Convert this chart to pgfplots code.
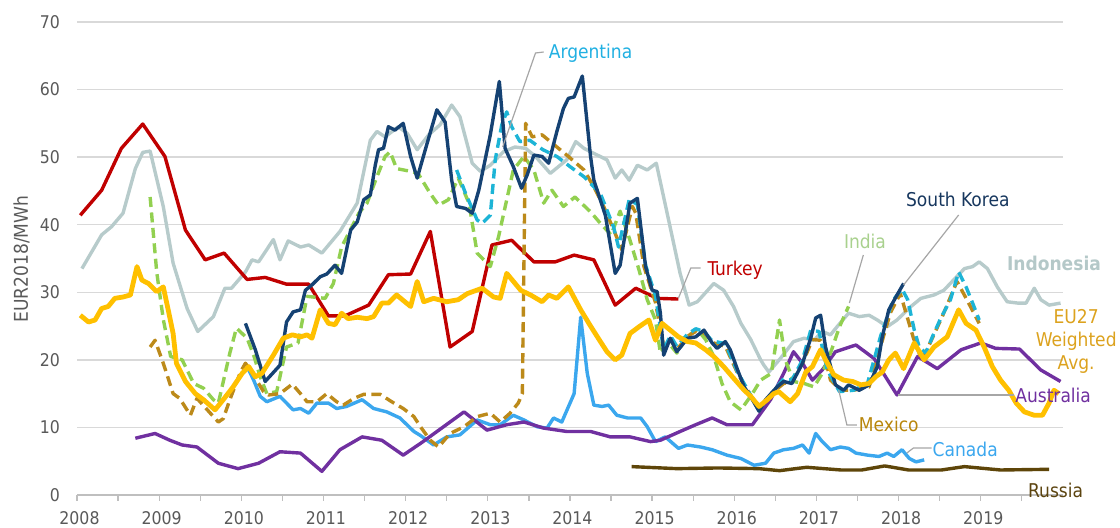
\documentclass[border=0pt]{standalone}
\usepackage{fontspec}
\IfFontExistsTF{DejaVu Sans Condensed}{\setmainfont{DejaVu Sans Condensed}}{\setmainfont{DejaVu Sans}}
\usepackage{pgfplots}
\pgfplotsset{compat=1.18}
\definecolor{cTur}{HTML}{C00000}
\definecolor{cIdn}{HTML}{B7CBCB}
\definecolor{cKor}{HTML}{154273}
\definecolor{cArg}{HTML}{1DB4D6}
\definecolor{cInd}{HTML}{92D050}
\definecolor{cMex}{HTML}{BC8A1A}
\definecolor{cEU}{HTML}{FFC000}
\definecolor{cAus}{HTML}{7030A0}
\definecolor{cCan}{HTML}{3BA7EE}
\definecolor{cRus}{HTML}{5E4509}
\definecolor{tArg}{HTML}{21B0E2}
\definecolor{tKor}{HTML}{17375E}
\definecolor{tInd}{HTML}{A9D18E}
\definecolor{tIdn}{HTML}{B4C8C8}
\definecolor{tEU}{HTML}{DCA21E}
\definecolor{tMex}{HTML}{B8860B}
\definecolor{tRus}{HTML}{5C4410}
\definecolor{cGrid}{HTML}{D9D9D9}
\definecolor{cAxis}{HTML}{BFBFBF}
\definecolor{cTick}{HTML}{595959}
\definecolor{cLead}{HTML}{A6A6A6}
\begin{document}
\begin{tikzpicture}[x=1bp,y=1bp]
\path[use as bounding box] (0,0) rectangle (1120,528);
\begin{axis}[
  at={(77bp,33bp)}, anchor=south west,
  scale only axis, width=986bp, height=473bp,
  xmin=2008, xmax=2020, ymin=0, ymax=70,
  axis x line*=bottom, axis y line*=left,
  y axis line style={draw=none},
  x axis line style={draw=cAxis, line width=1.3bp},
  xtick={2008,2009,...,2019},
  minor xtick={2008.5,2009.5,...,2019.5},
  ytick={0,10,...,70},
  ymajorgrids, major grid style={draw=cGrid, line width=1.3bp},
  tick align=outside,
  major tick length=6bp, minor tick length=6bp,
  xtick style={draw=cAxis, line width=1.3bp},
  every minor tick/.append style={draw=cAxis, line width=1.3bp},
  ytick style={draw=none},
  scaled x ticks=false,
  /pgf/number format/assume math mode=true,
  xticklabel={\pgfmathprintnumber[1000 sep={},fixed,precision=0]{\tick}},
  x tick label style={font=\fontsize{17.5bp}{21bp}\selectfont, text=cTick, anchor=north, inner sep=0pt, yshift=-10.5bp, xshift=2.5bp},
  y tick label style={font=\fontsize{17.5bp}{21bp}\selectfont, text=cTick, anchor=east, inner sep=0pt, xshift=-11bp},
  ylabel={EUR2018/MWh},
  every axis y label/.style={at={(axis description cs:-0.0563,0.499)}, rotate=90, anchor=center, font=\fontsize{19bp}{23bp}\selectfont, text=cTick},
  clip=false,
  every axis plot/.append style={line width=3.4bp, line join=round, no markers},
  dsh/.style={dash pattern=on 10bp off 5.5bp},
]
% Indonesia
\addplot[cIdn] coordinates {(2008.06,33.5)(2008.30,38.5)(2008.42,39.7)(2008.56,41.7)(2008.71,48.3)(2008.80,50.7)(2008.89,50.9)(2009.05,42.7)(2009.17,34.3)(2009.34,27.6)(2009.47,24.2)(2009.66,26.4)(2009.80,30.6)(2009.88,30.6)(2010.05,33.0)(2010.13,34.8)(2010.21,34.5)(2010.39,37.8)(2010.47,34.8)(2010.57,37.6)(2010.72,36.7)(2010.82,37.0)(2010.98,35.8)(2011.20,39.0)(2011.41,43.2)(2011.57,52.5)(2011.65,53.8)(2011.75,53.0)(2011.91,54.5)(2012.02,53.5)(2012.14,51.1)(2012.28,53.3)(2012.42,54.8)(2012.56,57.7)(2012.66,56.0)(2012.81,49.1)(2012.91,47.9)(2013.03,48.8)(2013.19,50.8)(2013.33,51.5)(2013.46,51.3)(2013.58,50.1)(2013.76,47.6)(2013.86,48.6)(2013.96,49.6)(2014.07,52.3)(2014.17,51.3)(2014.25,50.8)(2014.45,49.6)(2014.55,46.9)(2014.63,48.1)(2014.72,46.6)(2014.82,48.8)(2014.94,48.1)(2015.05,49.1)(2015.20,40.7)(2015.34,32.8)(2015.45,28.1)(2015.55,28.6)(2015.75,31.3)(2015.87,30.3)(2015.99,27.9)(2016.08,25.4)(2016.20,23.0)(2016.32,20.0)(2016.36,19.2)(2016.42,18.2)(2016.56,20.2)(2016.72,22.7)(2016.85,23.2)(2016.97,22.9)(2017.07,24.2)(2017.17,23.7)(2017.25,24.9)(2017.39,26.9)(2017.52,26.4)(2017.64,26.6)(2017.74,25.9)(2017.86,24.9)(2017.98,25.9)(2018.15,27.9)(2018.27,29.1)(2018.43,29.6)(2018.55,30.3)(2018.69,32.1)(2018.80,33.5)(2018.90,33.8)(2018.98,34.5)(2019.08,33.5)(2019.20,30.8)(2019.32,28.6)(2019.45,28.4)(2019.55,28.4)(2019.65,30.6)(2019.73,28.9)(2019.83,28.1)(2019.97,28.4)};
% Russia
\addplot[cRus] coordinates {(2014.75,4.2)(2015.30,3.9)(2015.80,4.0)(2016.30,3.9)(2016.55,3.6)(2016.88,4.1)(2017.30,3.7)(2017.55,3.7)(2017.83,4.3)(2018.12,3.7)(2018.52,3.7)(2018.80,4.2)(2019.24,3.7)(2019.83,3.8)};
% Canada
\addplot[cCan] coordinates {(2010.09,18.5)(2010.15,17.0)(2010.23,14.6)(2010.31,13.8)(2010.47,14.6)(2010.63,12.6)(2010.72,12.8)(2010.82,12.1)(2010.92,13.6)(2011.06,13.6)(2011.16,12.8)(2011.28,13.1)(2011.47,14.1)(2011.61,12.8)(2011.77,12.3)(2011.93,11.4)(2012.10,9.4)(2012.18,8.8)(2012.34,7.4)(2012.50,8.6)(2012.66,8.9)(2012.87,11.1)(2013.03,10.4)(2013.15,10.4)(2013.31,11.8)(2013.44,11.1)(2013.60,10.1)(2013.72,9.9)(2013.80,11.4)(2013.90,10.8)(2014.05,15.0)(2014.13,26.3)(2014.21,18.0)(2014.29,13.3)(2014.39,13.1)(2014.47,13.3)(2014.57,11.8)(2014.70,11.4)(2014.86,11.4)(2014.94,10.1)(2015.04,7.9)(2015.16,8.6)(2015.32,6.9)(2015.43,7.4)(2015.59,7.1)(2015.73,6.7)(2015.91,5.9)(2016.08,5.4)(2016.24,4.4)(2016.38,4.7)(2016.48,6.2)(2016.60,6.7)(2016.72,6.9)(2016.83,7.4)(2016.91,6.2)(2016.99,9.1)(2017.07,7.9)(2017.17,6.7)(2017.29,7.1)(2017.39,6.9)(2017.48,6.2)(2017.62,5.9)(2017.76,5.7)(2017.86,6.2)(2017.94,5.7)(2018.04,6.7)(2018.13,5.4)(2018.21,4.9)(2018.31,5.2)};
% Australia
\addplot[cAus] coordinates {(2008.71,8.4)(2008.95,9.1)(2009.13,8.1)(2009.28,7.4)(2009.46,7.1)(2009.72,4.7)(2009.96,3.9)(2010.21,4.7)(2010.47,6.4)(2010.72,6.2)(2010.98,3.5)(2011.20,6.7)(2011.47,8.6)(2011.71,8.1)(2011.97,5.9)(2012.20,7.8)(2012.71,12.3)(2012.99,9.6)(2013.23,10.4)(2013.44,10.8)(2013.68,9.9)(2013.96,9.4)(2014.25,9.4)(2014.49,8.6)(2014.73,8.6)(2014.98,7.9)(2015.10,8.1)(2015.34,9.4)(2015.53,10.4)(2015.73,11.4)(2015.91,10.4)(2016.22,10.4)(2016.44,14.1)(2016.60,18.0)(2016.72,21.2)(2016.83,19.5)(2016.95,17.0)(2017.07,18.5)(2017.23,21.2)(2017.48,22.2)(2017.70,20.2)(2017.84,17.5)(2017.98,14.8)(2018.23,20.5)(2018.47,18.7)(2018.76,21.5)(2019.00,22.5)(2019.18,21.7)(2019.47,21.6)(2019.73,18.5)(2019.97,16.8)};
% Turkey
\addplot[cTur] coordinates {(2008.04,41.4)(2008.30,45.1)(2008.54,51.3)(2008.80,54.9)(2009.07,50.1)(2009.32,39.2)(2009.56,34.8)(2009.79,35.8)(2010.07,31.9)(2010.29,32.2)(2010.55,31.2)(2010.82,31.2)(2011.06,26.5)(2011.26,26.5)(2011.55,28.1)(2011.79,32.6)(2012.06,32.7)(2012.30,39.0)(2012.54,21.9)(2012.81,24.2)(2013.05,37.0)(2013.29,37.7)(2013.56,34.5)(2013.82,34.5)(2014.05,35.5)(2014.29,34.8)(2014.55,28.1)(2014.80,30.6)(2015.06,29.1)(2015.32,29.0)};
% India
\addplot[cInd,dsh] coordinates {(2008.89,44.1)(2008.97,33.0)(2009.05,26.0)(2009.14,20.5)(2009.28,20.0)(2009.42,16.5)(2009.54,15.8)(2009.66,14.1)(2009.72,13.6)(2009.86,21.0)(2009.94,24.7)(2010.07,23.2)(2010.15,20.7)(2010.23,17.5)(2010.31,15.0)(2010.43,15.3)(2010.55,21.9)(2010.69,22.5)(2010.80,29.4)(2011.02,29.1)(2011.12,31.3)(2011.22,36.7)(2011.43,41.7)(2011.53,43.2)(2011.65,47.1)(2011.75,50.1)(2011.81,50.8)(2011.89,48.3)(2012.06,47.9)(2012.15,47.6)(2012.30,44.6)(2012.40,42.9)(2012.52,43.7)(2012.64,46.9)(2012.77,43.2)(2012.87,35.8)(2013.03,33.8)(2013.13,38.2)(2013.23,43.7)(2013.31,48.1)(2013.44,50.1)(2013.56,48.1)(2013.68,43.2)(2013.78,45.1)(2013.92,42.7)(2014.06,44.1)(2014.25,41.9)(2014.37,40.2)(2014.50,38.5)(2014.61,42.0)(2014.73,37.7)(2014.84,33.3)(2014.94,28.9)(2015.04,25.9)(2015.10,21.0)(2015.20,22.5)(2015.30,21.0)(2015.43,23.5)(2015.55,24.5)(2015.65,23.0)(2015.75,20.5)(2015.85,16.5)(2015.95,13.8)(2016.08,12.6)(2016.22,15.0)(2016.32,17.0)(2016.45,18.0)(2016.55,25.9)(2016.62,20.0)(2016.72,16.8)(2016.85,16.5)(2016.97,16.0)(2017.07,18.0)(2017.17,21.0)(2017.28,24.9)(2017.39,27.9)};
% Mexico
\addplot[cMex,dsh] coordinates {(2008.89,21.9)(2008.95,22.9)(2009.05,19.5)(2009.17,15.0)(2009.25,14.3)(2009.38,11.8)(2009.46,14.3)(2009.72,10.8)(2009.78,11.3)(2009.86,14.1)(2009.99,18.2)(2010.05,19.5)(2010.11,18.5)(2010.27,15.3)(2010.33,14.8)(2010.47,15.0)(2010.62,16.4)(2010.72,15.0)(2010.80,13.8)(2010.92,13.8)(2011.04,15.0)(2011.16,13.8)(2011.24,13.3)(2011.37,14.3)(2011.49,14.9)(2011.69,14.9)(2011.83,13.8)(2011.97,12.8)(2012.10,11.6)(2012.18,10.1)(2012.30,8.1)(2012.40,7.1)(2012.54,9.1)(2012.71,10.1)(2012.87,11.6)(2013.03,12.1)(2013.15,10.8)(2013.27,12.1)(2013.37,13.6)(2013.42,15.0)(2013.46,55.0)(2013.54,53.0)(2013.66,53.3)(2013.84,51.5)(2013.98,50.1)(2014.17,48.1)(2014.29,45.6)(2014.41,42.7)(2014.55,38.7)(2014.63,36.3)(2014.76,42.7)(2014.80,41.7)(2014.90,33.8)(2015.04,28.5)(2015.14,22.0)(2015.22,23.0)(2015.30,21.5)(2015.43,23.5)(2015.53,24.2)(2015.63,24.0)(2015.75,22.5)(2015.89,22.0)(2016.04,18.0)(2016.22,14.3)(2016.32,13.0)(2016.45,15.0)(2016.60,16.5)(2016.70,16.8)(2016.83,19.5)(2016.95,23.0)(2017.05,22.9)(2017.17,17.0)(2017.30,15.5)(2017.45,15.5)(2017.64,16.0)(2017.78,22.0)(2017.90,27.0)(2018.02,29.8)(2018.18,23.2)(2018.28,20.0)(2018.36,21.9)(2018.53,26.4)(2018.71,31.6)(2018.83,28.9)(2018.98,25.4)};
% Argentina
\addplot[cArg,dsh] coordinates {(2012.62,48.1)(2012.73,44.6)(2012.87,40.7)(2012.93,40.2)(2013.03,41.4)(2013.09,49.6)(2013.17,54.8)(2013.23,56.7)(2013.29,54.5)(2013.39,52.3)(2013.51,52.5)(2013.67,51.1)(2013.84,50.1)(2014.00,48.6)(2014.17,47.1)(2014.37,44.6)(2014.53,39.7)(2014.59,36.7)(2014.72,43.7)(2014.82,43.0)(2014.92,34.0)(2015.04,29.5)(2015.14,21.5)(2015.22,23.6)(2015.30,22.0)(2015.43,23.8)(2015.53,24.6)(2015.63,24.2)(2015.73,22.8)(2015.89,22.4)(2016.04,18.2)(2016.22,14.3)(2016.32,13.0)(2016.45,15.0)(2016.60,17.2)(2016.70,17.0)(2016.83,20.0)(2016.93,24.4)(2017.03,24.2)(2017.13,18.5)(2017.28,15.3)(2017.45,15.5)(2017.62,16.5)(2017.78,23.5)(2017.93,28.8)(2018.04,30.5)(2018.11,28.9)(2018.19,24.4)(2018.25,21.9)(2018.33,21.0)(2018.41,23.4)(2018.51,26.1)(2018.63,28.9)(2018.73,33.0)(2018.82,30.8)(2018.90,28.4)(2018.98,25.9)};
% South Korea
\addplot[cKor] coordinates {(2010.05,25.4)(2010.17,21.5)(2010.29,16.8)(2010.47,19.2)(2010.55,25.6)(2010.63,27.1)(2010.72,27.4)(2010.78,30.3)(2010.86,31.1)(2010.96,32.3)(2011.04,32.7)(2011.14,34.0)(2011.22,32.8)(2011.33,39.2)(2011.41,40.4)(2011.49,43.7)(2011.57,44.4)(2011.63,48.8)(2011.67,51.1)(2011.73,51.3)(2011.79,54.5)(2011.87,54.0)(2011.97,55.0)(2012.06,50.1)(2012.14,46.9)(2012.26,52.0)(2012.38,57.0)(2012.48,55.2)(2012.56,46.6)(2012.62,42.7)(2012.73,42.4)(2012.81,41.7)(2012.89,45.1)(2013.03,53.3)(2013.14,61.2)(2013.21,51.3)(2013.31,48.6)(2013.41,45.4)(2013.48,47.4)(2013.56,50.3)(2013.66,50.1)(2013.74,49.1)(2013.84,53.8)(2013.92,57.2)(2013.98,58.7)(2014.05,58.9)(2014.15,62.0)(2014.25,50.1)(2014.29,46.6)(2014.43,41.4)(2014.55,32.8)(2014.61,34.0)(2014.73,43.2)(2014.82,43.9)(2014.92,33.8)(2015.00,30.3)(2015.06,30.1)(2015.10,26.9)(2015.14,20.7)(2015.22,23.2)(2015.30,21.2)(2015.43,23.2)(2015.53,23.4)(2015.63,24.4)(2015.73,22.5)(2015.79,21.7)(2015.89,22.7)(2015.95,21.5)(2016.04,18.5)(2016.12,16.0)(2016.22,14.1)(2016.30,12.4)(2016.38,14.1)(2016.52,16.0)(2016.60,16.8)(2016.70,16.5)(2016.83,19.5)(2016.93,23.2)(2016.99,26.2)(2017.05,26.6)(2017.11,21.9)(2017.23,16.3)(2017.33,15.5)(2017.39,16.3)(2017.52,15.5)(2017.64,16.3)(2017.74,19.0)(2017.80,23.4)(2017.88,27.4)(2017.98,29.6)(2018.06,31.3)};
% EU27 weighted average
\addplot[cEU, line width=4.8bp] coordinates {(2008.04,26.6)(2008.14,25.6)(2008.22,25.9)(2008.30,27.6)(2008.38,27.9)(2008.46,29.1)(2008.56,29.3)(2008.65,29.6)(2008.73,33.8)(2008.79,31.8)(2008.87,31.3)(2008.97,30.1)(2009.05,30.8)(2009.11,27.4)(2009.17,23.9)(2009.21,19.5)(2009.32,16.8)(2009.44,15.0)(2009.54,14.1)(2009.68,12.6)(2009.78,14.1)(2009.90,16.0)(2010.01,18.0)(2010.09,19.0)(2010.17,17.5)(2010.25,18.0)(2010.39,20.7)(2010.51,23.2)(2010.62,23.7)(2010.72,23.4)(2010.80,23.7)(2010.86,23.2)(2010.96,27.4)(2011.06,25.4)(2011.14,25.2)(2011.22,26.9)(2011.30,26.1)(2011.41,26.3)(2011.53,26.1)(2011.61,26.4)(2011.71,28.4)(2011.79,28.4)(2011.89,29.6)(2012.06,27.9)(2012.14,31.6)(2012.22,28.6)(2012.34,29.1)(2012.50,28.6)(2012.64,28.9)(2012.75,29.8)(2012.93,30.6)(2013.07,29.3)(2013.15,29.1)(2013.23,32.8)(2013.40,30.3)(2013.52,29.6)(2013.66,28.6)(2013.74,29.6)(2013.84,29.1)(2013.98,30.8)(2014.13,27.4)(2014.25,25.0)(2014.37,22.7)(2014.45,21.2)(2014.55,20.0)(2014.63,20.7)(2014.73,23.9)(2014.84,24.9)(2014.96,25.9)(2015.04,22.9)(2015.12,25.4)(2015.22,24.4)(2015.32,23.4)(2015.43,22.7)(2015.53,22.5)(2015.65,21.5)(2015.75,20.5)(2015.87,19.0)(2015.99,17.3)(2016.12,15.5)(2016.20,14.6)(2016.30,13.1)(2016.40,14.1)(2016.48,15.0)(2016.54,15.3)(2016.68,13.8)(2016.77,15.0)(2016.87,18.2)(2016.95,19.0)(2017.05,21.5)(2017.11,20.0)(2017.21,17.8)(2017.33,17.0)(2017.44,16.8)(2017.54,16.3)(2017.64,16.5)(2017.72,17.5)(2017.80,18.2)(2017.88,20.0)(2017.96,21.0)(2018.06,18.7)(2018.19,22.5)(2018.31,20.0)(2018.43,21.9)(2018.59,23.4)(2018.73,27.4)(2018.82,25.4)(2018.94,24.4)(2019.04,21.9)(2019.14,19.0)(2019.24,17.0)(2019.34,15.5)(2019.43,13.6)(2019.53,12.3)(2019.65,11.8)(2019.75,11.8)(2019.83,13.6)(2019.89,15.5)(2019.95,15.0)};
% leader lines
\draw[cLead, line width=1.2bp] (axis cs:2013.68,65.56) -- (axis cs:2013.58,65.41) -- (axis cs:2013.18,51.5);
\draw[cLead, line width=1.2bp] (axis cs:2015.59,33.59) -- (axis cs:2015.47,33.59) -- (axis cs:2015.32,29.15);
\draw[cLead, line width=1.2bp] (axis cs:2018.73,41.44) -- (axis cs:2018.06,31.08);
\draw[cLead, line width=1.2bp] (axis cs:2017.57,35.52) -- (axis cs:2017.40,28.41);
\draw[cLead, line width=1.2bp] (axis cs:2019.40,14.80) -- (axis cs:2017.99,14.80);
\draw[cLead, line width=1.2bp] (axis cs:2017.49,10.36) -- (axis cs:2017.37,10.36) -- (axis cs:2017.27,15.54);
\draw[cLead, line width=1.2bp] (axis cs:2018.40,6.96) -- (axis cs:2018.18,6.96) -- (axis cs:2018.10,6.22);
% labels
\begin{scope}[every node/.style={font=\fontsize{19bp}{23bp}\selectfont, inner sep=0pt}]
\node[text=tArg] at (axis cs:2014.25,65.4) {Argentina};
\node[text=cTur] at (axis cs:2016.01,33.3) {Turkey};
\node[text=tKor] at (axis cs:2018.72,43.7) {South Korea};
\node[text=tInd] at (axis cs:2017.59,37.6) {India};
\node[text=tIdn, font=\fontsize{19bp}{23bp}\selectfont\bfseries] at (axis cs:2019.89,34.3) {Indonesia};
\node[text=tEU, align=center] at (axis cs:2020.16,22.8) {EU27\\Weighted\\Avg.};
\node[text=cAus] at (axis cs:2019.88,14.8) {Australia};
\node[text=tMex] at (axis cs:2017.88,10.4) {Mexico};
\node[text=cCan] at (axis cs:2018.81,6.75) {Canada};
\node[text=tRus] at (axis cs:2019.91,0.74) {Russia};
\end{scope}
\end{axis}
\end{tikzpicture}
\end{document}
